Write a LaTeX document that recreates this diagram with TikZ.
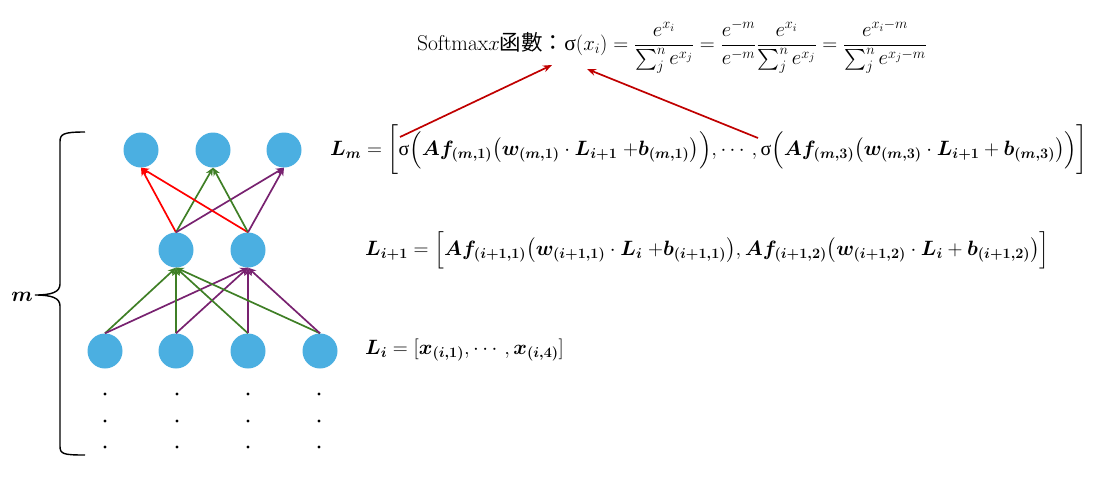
\documentclass[tikz,border=0pt]{standalone}
\usepackage{amsmath}
\usepackage{bm}
\usepackage{fontspec}
\newfontfamily\cjk{Noto Sans CJK TC}
\newfontfamily\grk{Liberation Serif}
\usetikzlibrary{arrows.meta}
\definecolor{nodeblue}{HTML}{4BAFE1}
\definecolor{edgegreen}{HTML}{3F7F26}
\definecolor{edgepurple}{HTML}{782270}
\definecolor{edgered}{HTML}{FF0000}
\definecolor{darkred}{HTML}{C00000}
\newcommand{\sg}{\text{\grk σ}}
\newcommand{\sub}[2]{\bm{(}\bm{#1}\bm{,}\bm{#2}\bm{)}}
\begin{document}
\begin{tikzpicture}[x=1pt,y=-1pt,
  neuron/.style={circle,fill=nodeblue,minimum size=35pt,inner sep=0pt},
  edge/.style={line width=1.7pt,-{Stealth[length=8pt,width=7pt]}},
  bigarrow/.style={line width=1.7pt,darkred,-{Stealth[length=9pt,width=7pt]}},
  formula/.style={inner sep=0pt,font=\fontsize{20}{24}\selectfont}]
\useasboundingbox (0,0) rectangle (1113,483);
% neurons
\node[neuron] (t1) at (141,150) {};
\node[neuron] (t2) at (213,150) {};
\node[neuron] (t3) at (284,150) {};
\node[neuron] (m1) at (176,250) {};
\node[neuron] (m2) at (248,250) {};
\node[neuron] (b1) at (105,351) {};
\node[neuron] (b2) at (176,351) {};
\node[neuron] (b3) at (248,351) {};
\node[neuron] (b4) at (320,351) {};
% bottom -> middle
\foreach \q in {b1,b2,b3,b4}{
  \draw[edge,edgegreen] (\q.north) -- (m1.south);
  \draw[edge,edgepurple] (\q.north) -- (m2.south);
}
% middle -> top
\foreach \q in {m1,m2}{
  \draw[edge,edgered] (\q.north) -- (t1.south);
  \draw[edge,edgegreen] (\q.north) -- (t2.south);
  \draw[edge,edgepurple] (\q.north) -- (t3.south);
}
% dots
\foreach \xx in {105,177,248,319}{
  \foreach \yy in {394,421,447}{
    \fill (\xx,\yy) circle[radius=1.7pt];
  }
}
% brace
\draw[line width=1.4pt] (85,132) .. controls (63,132) and (60,134) .. (60,142) -- (60,284) .. controls (60,292) and (52,295) .. (35,295) .. controls (52,295) and (60,298) .. (60,306) -- (60,446) .. controls (60,454) and (63,455) .. (85,455);
\node[formula] (mlab) at (22,297) {$\bm{m}$};
% formulas
\node[formula,font=\fontsize{21.5}{26}\selectfont] (soft) at (672,47) {Softmax$x${\cjk 函數：}$\sg(x_i)=\dfrac{e^{x_i}}{\sum_j^n e^{x_j}}=\dfrac{e^{-m}}{e^{-m}}\dfrac{e^{x_i}}{\sum_j^n e^{x_j}}=\dfrac{e^{x_i-m}}{\sum_j^n e^{x_j-m}}$};
\node[formula,anchor=west] (lm) at (330,150) {$\bm{L}_{\bm{m}}=\biggl[\sg\Bigl(\bm{A}\bm{f}_{\sub{m}{1}}\bigl(\bm{w}_{\sub{m}{1}}\cdot\bm{L}_{\bm{i}\bm{+}\bm{1}}\;{+}\bm{b}_{\sub{m}{1}}\bigr)\Bigr),\cdots,\sg\Bigl(\bm{A}\bm{f}_{\sub{m}{3}}\bigl(\bm{w}_{\sub{m}{3}}\cdot\bm{L}_{\bm{i}\bm{+}\bm{1}}+\bm{b}_{\sub{m}{3}}\bigr)\Bigr)\biggr]$};
\node[formula,anchor=west,font=\fontsize{20.4}{24}\selectfont] (li1) at (365,250) {$\bm{L}_{\bm{i}\bm{+}\bm{1}}=\Bigl[\bm{A}\bm{f}_{\sub{i+1}{1}}\bigl(\bm{w}_{\sub{i+1}{1}}\cdot\bm{L}_{\bm{i}}\;{+}\bm{b}_{\sub{i+1}{1}}\bigr),\bm{A}\bm{f}_{\sub{i+1}{2}}\bigl(\bm{w}_{\sub{i+1}{2}}\cdot\bm{L}_{\bm{i}}+\bm{b}_{\sub{i+1}{2}}\bigr)\Bigr]$};
\node[formula,anchor=west] (li) at (365,350) {$\bm{L}_{\bm{i}}=[\bm{x}_{\sub{i}{1}},\cdots,\bm{x}_{\sub{i}{4}}]$};
% long red arrows
\coordinate (r1s) at (400,137);
\coordinate (r1e) at (552,65);
\coordinate (r2s) at (758,138);
\coordinate (r2e) at (587,69);
\draw[bigarrow] (r1s) -- (r1e);
\draw[bigarrow] (r2s) -- (r2e);
\end{tikzpicture}
\end{document}
